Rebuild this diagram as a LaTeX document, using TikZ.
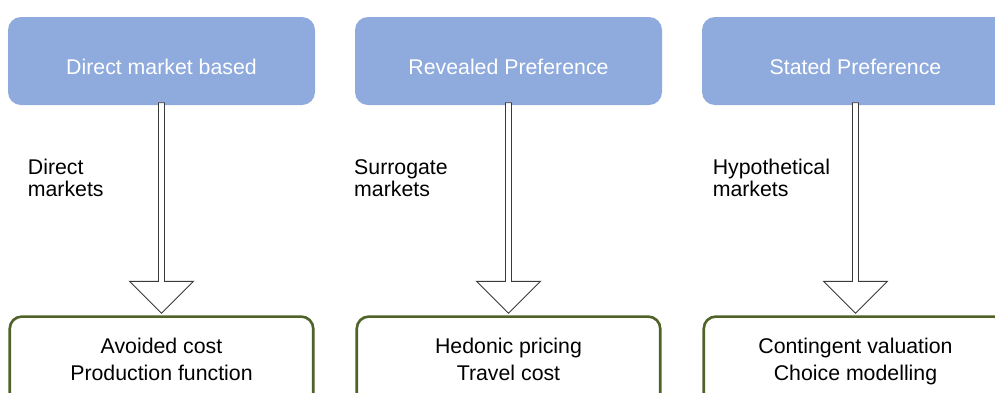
\documentclass[tikz,border=0pt]{standalone}
\usepackage{fontspec}
\setmainfont{Liberation Sans}
\usetikzlibrary{calc}
\definecolor{boxblue}{HTML}{8FAADC}
\definecolor{boxolive}{HTML}{4F6228}
\definecolor{arrowgray}{HTML}{3A3A3A}
\begin{document}
\begin{tikzpicture}[x=1pt,y=-1pt,
  headbox/.style={fill=boxblue, rounded corners=13pt, minimum width=307pt,
    minimum height=88pt, inner sep=0pt, text=white,
    font=\fontsize{21.3}{24}\selectfont, text height=27pt, text depth=0pt},
  resultbox/.style={draw=boxolive, line width=2.6pt, rounded corners=12pt,
    fill=white, minimum width=303.5pt, inner sep=0pt, align=center,
    font=\fontsize{21.3}{27.5}\selectfont, text height=64.2pt,
    text depth=40pt, anchor=north},
  marketnote/.style={anchor=base west, align=left, inner sep=0pt,
    font=\fontsize{21.3}{22.7}\selectfont},
  blockarrow/.style={draw=arrowgray, line width=0.9pt, fill=white,
    line join=miter}]
\useasboundingbox (0,0) rectangle (995,392);
\clip (0,0) rectangle (995,392);

% valuation approaches
\node[headbox] (h1) at (161.5,61) {Direct market based};
\node[headbox] (h2) at (508.5,61) {Revealed Preference};
\node[headbox] (h3) at (855.5,61) {Stated Preference};

% methods belonging to each approach
\node[resultbox] (r1) at (161.5,315.3) {Avoided cost\\Production function};
\node[resultbox] (r2) at (508.5,315.3) {Hedonic pricing\\Travel cost};
\node[resultbox] (r3) at (855.5,315.3) {Contingent valuation\\Choice modelling};

% market type labels (anchored at the baseline of the last line)
\node[marketnote] (m1) at (27.7,196.7) {Direct\\markets};
\node[marketnote] (m2) at (354,196.7) {Surrogate\\markets};
\node[marketnote] (m3) at (712.6,196.7) {Hypothetical\\markets};

% hollow block arrows from approach to methods
\foreach \i in {1,2,3}{
  \draw[blockarrow]
    ($(h\i.south)+(-3,-2.5)$) -- ($(r\i.north)+(-3,-34)$)
    -- ($(r\i.north)+(-32,-34)$) -- ($(r\i.north)+(0,-2)$)
    -- ($(r\i.north)+(32,-34)$) -- ($(r\i.north)+(3,-34)$)
    -- ($(h\i.south)+(3,-2.5)$) -- cycle;
}
\end{tikzpicture}
\end{document}
